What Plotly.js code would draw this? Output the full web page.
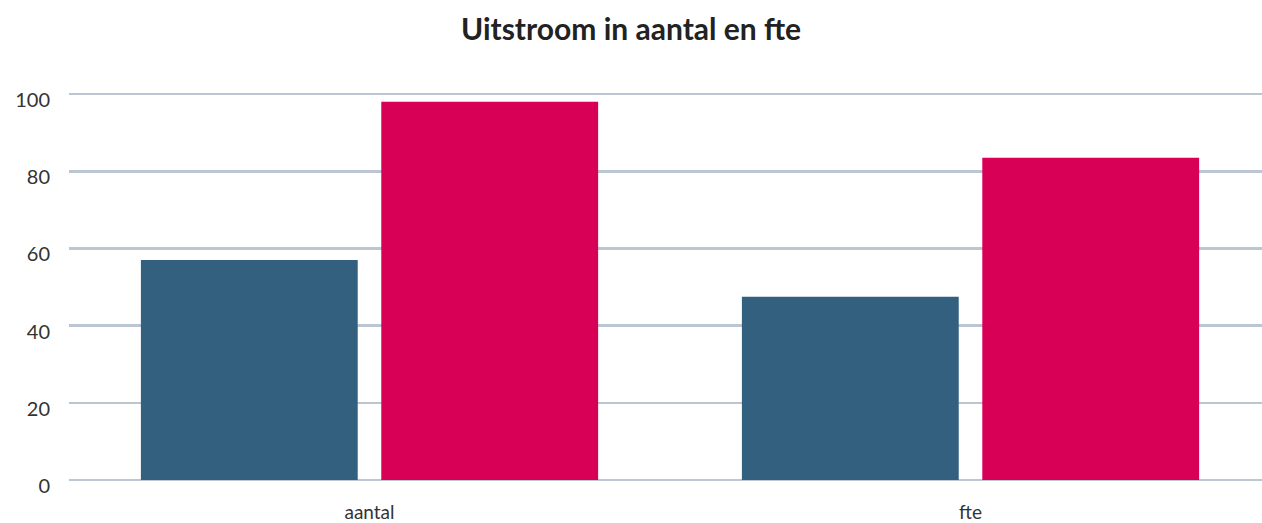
<!DOCTYPE html>
<html>
<head>
<meta charset="utf-8">
<script src="https://cdn.plot.ly/plotly-3.0.1.min.js"></script>
<style>html,body{margin:0;padding:0;background:#fff;}#chart{width:1262px;height:523px;}</style>
</head>
<body>
<div id="chart"></div>
<script>
const categories = ["aantal", "fte"];
const series1Values = [57, 47.5];
const series2Values = [98, 83.5];
const seriesNames = ["Reeks 1", "Reeks 2"];
const yTicks = [0, 20, 40, 60, 80, 100];

const data = [
  { type: "bar", x: categories, y: series1Values, name: seriesNames[0], marker: { color: "#33607e" }, hoverinfo: "x+y" },
  { type: "bar", x: categories, y: series2Values, name: seriesNames[1], marker: { color: "#d80056" }, hoverinfo: "x+y" }
];

const layout = {
  width: 1262, height: 523,
  margin: { l: 69, r: 0, t: 93, b: 43 },
  paper_bgcolor: "#fff", plot_bgcolor: "#fff",
  showlegend: false,
  barmode: "group", bargap: 0.2, bargroupgap: 0.098,
  font: { family: "Lato, 'Noto Sans', sans-serif", color: "#333" },
  title: { text: "<b>Uitstroom in aantal en fte</b>", x: 0.5, xanchor: "center", y: 0.943, yanchor: "middle",
           font: { size: 30, color: "#222", family: "Lato, 'Noto Sans', sans-serif" } },
  xaxis: { range: [-0.5, 1.485], showgrid: false, zeroline: false, showline: false, ticks: "",
           ticklabelstandoff: 19, tickfont: { size: 19, color: "#333" }, automargin: false },
  yaxis: { range: [0, 100.3], tickvals: yTicks, showgrid: true, gridcolor: "#bcc6d3", gridwidth: 2.5,
           zeroline: true, zerolinecolor: "#bcc6d3", zerolinewidth: 2.5, showline: false,
           ticks: "", ticklabelstandoff: 18, ticklabelshift: 6, tickfont: { size: 20, color: "#333" }, automargin: false }
};

Plotly.newPlot("chart", data, layout, { displayModeBar: false, staticPlot: true });
</script>
</body>
</html>
